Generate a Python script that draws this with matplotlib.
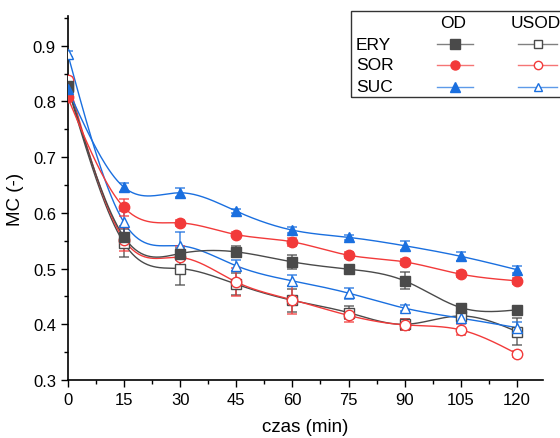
import matplotlib.pyplot as plt
import matplotlib.patches as mpatches
from matplotlib.lines import Line2D
from matplotlib.ticker import MultipleLocator
import numpy as np

plt.rcParams['font.family'] = ['Liberation Sans', 'DejaVu Sans']

# Dane
czas = [0, 15, 30, 45, 60, 75, 90, 105, 120]

ery_od = [0.828, 0.557, 0.527, 0.530, 0.512, 0.499, 0.478, 0.430, 0.426]
sor_od = [0.807, 0.610, 0.582, 0.561, 0.548, 0.524, 0.512, 0.490, 0.478]
suc_od = [0.822, 0.646, 0.636, 0.603, 0.569, 0.556, 0.541, 0.522, 0.498]
ery_usod = [0.825, 0.546, 0.500, 0.472, 0.443, 0.421, 0.400, 0.415, 0.387]
sor_usod = [0.838, 0.552, 0.520, 0.476, 0.444, 0.416, 0.399, 0.390, 0.347]
suc_usod = [0.885, 0.583, 0.541, 0.505, 0.478, 0.456, 0.429, 0.411, 0.394]

err_ery_od = [0.005, 0.020, 0.010, 0.010, 0.012, 0.005, 0.015, 0.005, 0.005]
err_sor_od = [0.005, 0.015, 0.006, 0.005, 0.007, 0.005, 0.005, 0.005, 0.006]
err_suc_od = [0.005, 0.008, 0.008, 0.004, 0.005, 0.004, 0.008, 0.008, 0.006]
err_ery_usod = [0.005, 0.025, 0.030, 0.020, 0.020, 0.012, 0.010, 0.010, 0.025]
err_sor_usod = [0.005, 0.020, 0.020, 0.025, 0.025, 0.012, 0.010, 0.010, 0.005]
err_suc_usod = [0.005, 0.020, 0.025, 0.010, 0.010, 0.010, 0.005, 0.008, 0.010]

C_ERY = '#4a4a4a'
C_SOR = '#f23a3a'
C_SUC = '#1a6fdf'


def spline(x, y, n=300):
    """Naturalny splajn sześcienny do wygładzenia linii."""
    x = np.asarray(x, float)
    y = np.asarray(y, float)
    k = len(x)
    h = np.diff(x)
    A = np.zeros((k, k))
    b = np.zeros(k)
    A[0, 0] = A[-1, -1] = 1
    for i in range(1, k - 1):
        A[i, i - 1] = h[i - 1]
        A[i, i] = 2 * (h[i - 1] + h[i])
        A[i, i + 1] = h[i]
        b[i] = 6 * ((y[i + 1] - y[i]) / h[i] - (y[i] - y[i - 1]) / h[i - 1])
    M = np.linalg.solve(A, b)
    xs = np.linspace(x[0], x[-1], n)
    idx = np.clip(np.searchsorted(x, xs) - 1, 0, k - 2)
    x0, x1 = x[idx], x[idx + 1]
    hh = x1 - x0
    t0, t1 = x1 - xs, xs - x0
    ys = (M[idx] * t0**3 + M[idx + 1] * t1**3) / (6 * hh) \
        + (y[idx] / hh - M[idx] * hh / 6) * t0 \
        + (y[idx + 1] / hh - M[idx + 1] * hh / 6) * t1
    return xs, ys


fig = plt.figure(figsize=(5.6, 4.39), dpi=100)
ax = fig.add_axes([0.121, 0.132, 0.849, 0.829])

series = [
    (ery_usod, err_ery_usod, C_ERY, 's', False),
    (sor_usod, err_sor_usod, C_SOR, 'o', False),
    (suc_usod, err_suc_usod, C_SUC, '^', False),
    (ery_od, err_ery_od, C_ERY, 's', True),
    (sor_od, err_sor_od, C_SOR, 'o', True),
    (suc_od, err_suc_od, C_SUC, '^', True),
]

for y, e, c, m, filled in series:
    xs, ys = spline(czas, y)
    ax.plot(xs, ys, color=c, lw=1.0, zorder=2)
    ax.errorbar(czas, y, yerr=e, fmt='none', ecolor=c, elinewidth=1.2,
                capsize=3.5, capthick=1.2, alpha=0.75, zorder=3)
    ax.plot(czas, y, ls='none', marker=m, ms=7.5,
            mfc=c if filled else 'white', mec=c, mew=1.0, zorder=4)

ax.set_xlim(0, 127)
ax.set_ylim(0.3, 0.953)
ax.xaxis.set_major_locator(MultipleLocator(15))
ax.xaxis.set_minor_locator(MultipleLocator(7.5))
ax.yaxis.set_minor_locator(MultipleLocator(0.05))
ax.set_yticks(np.arange(0.3, 0.95, 0.1))
ax.set_yticklabels(['0.3', '0.4', '0.5', '0.6', '0.7', '0.8', '0.9'])
ax.tick_params(which='major', length=5, width=1, labelsize=12)
ax.tick_params(which='minor', length=3, width=1)
ax.spines['top'].set_visible(False)
ax.spines['right'].set_visible(False)
ax.spines['left'].set_linewidth(1.2)
ax.spines['bottom'].set_linewidth(1.2)
ax.set_xlabel('czas (min)', fontsize=13.5, labelpad=8)
ax.set_ylabel('MC (-)', fontsize=13.5, labelpad=6)

# Legenda rysowana ręcznie
W, H = 560, 439


def fx(px):
    return px / W


def fy(py):
    return 1 - py / H


fig.add_artist(mpatches.Rectangle((fx(350.5), fy(98)), fx(215), 86 / H,
                                  transform=fig.transFigure, fill=False,
                                  ec='#333333', lw=1.0))
fig.text(fx(453), fy(24), 'OD', ha='center', va='center', fontsize=12.5)
fig.text(fx(536), fy(24), 'USOD', ha='center', va='center', fontsize=12.5)
rows = [('ERY', C_ERY, 's', 45), ('SOR', C_SOR, 'o', 66), ('SUC', C_SUC, '^', 88)]
for name, c, m, py in rows:
    fig.text(fx(356), fy(py), name, ha='left', va='center', fontsize=12.5)
    for x0, x1, filled in [(437, 473, True), (518, 557, False)]:
        fig.add_artist(Line2D([fx(x0), fx(x1)], [fy(py), fy(py)],
                              transform=fig.transFigure, color=c,
                              lw=1.0, alpha=0.7))
        fig.add_artist(Line2D([fx((x0 + x1) / 2)], [fy(py)],
                              transform=fig.transFigure, ls='none',
                              marker=m, ms=6.5 if filled else 6,
                              mfc=c if filled else 'white', mec=c, mew=1.0))

plt.savefig('out.png', dpi=100, facecolor='white')
